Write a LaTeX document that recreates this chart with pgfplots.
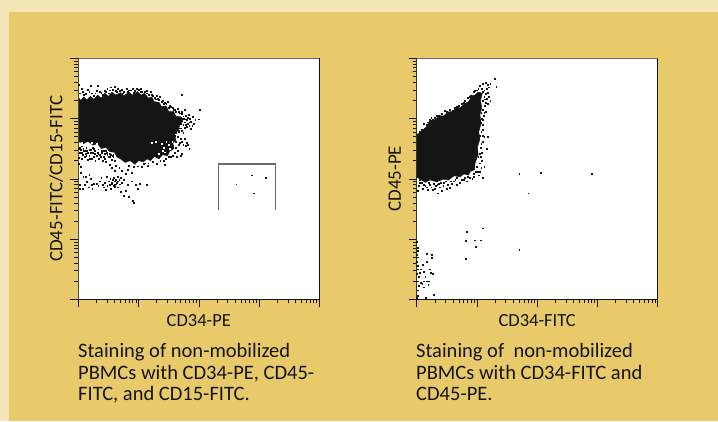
\documentclass[border=0pt]{standalone}
\usepackage{fontspec}
\setmainfont{Carlito}
\usepackage{pgfplots}
\pgfplotsset{compat=1.18}
\definecolor{cream}{HTML}{F5E6B8}
\definecolor{panel}{HTML}{E9CA6A}
\definecolor{ink}{HTML}{141414}
\definecolor{framegray}{HTML}{6A6A6A}
\def\minorlist{0.301,0.477,0.602,0.699,0.778,0.845,0.903,0.954,1.301,1.477,1.602,1.699,1.778,1.845,1.903,1.954,2.301,2.477,2.602,2.699,2.778,2.845,2.903,2.954,3.301,3.477,3.602,3.699,3.778,3.845,3.903,3.954}
\pgfplotsset{flow/.style={
  scale only axis,width=241pt,height=241pt,anchor=south west,
  xmin=0,xmax=4,ymin=0,ymax=4,
  xtick={0,1,2,3,4},ytick={0,1,2,3,4},
  minor xtick=\minorlist,minor ytick=\minorlist,
  xticklabels={},yticklabels={},
  tick align=outside,xtick pos=bottom,ytick pos=left,
  major tick length=8pt,minor tick length=4pt,
  every tick/.style={ink,line width=0.6pt},
  minor tick style={ink,line width=0.5pt},
  axis line style={ink,line width=0.6pt},
  axis background/.style={fill=white},
  clip=true,
  every axis x label/.style={at={(axis description cs:0.5,0)},yshift=-21pt,anchor=center,font=\fontsize{18.5}{20}\selectfont,text=ink},
  every axis y label/.style={at={(axis description cs:0,0.5)},xshift=-22pt,rotate=90,anchor=center,font=\fontsize{19}{20}\selectfont,text=ink},
},
speck/.style={only marks,mark=square*,mark size=0.42pt,mark options={ink,draw=none,fill=ink}},
gapspeck/.style={only marks,mark=square*,mark size=0.4pt,mark options={white,draw=none,fill=white}}}
\begin{document}
\begin{tikzpicture}[x=1pt,y=1pt]
\fill[cream] (0,0) rectangle (718,421);
\fill[panel] (9,0) rectangle (718,409);
\begin{axis}[flow,at={(78.3pt,121.7pt)},xlabel={CD34-PE},ylabel={CD45-FITC/CD15-FITC}]
\addplot[fill=ink,draw=ink,line width=0.3pt] coordinates {(0,3.36)(0.04,3.30)(0.09,3.36)(0.14,3.31)(0.20,3.37)(0.26,3.32)(0.32,3.39)(0.38,3.34)(0.44,3.42)(0.50,3.37)(0.56,3.44)(0.62,3.39)(0.70,3.43)(0.76,3.38)(0.84,3.44)(0.90,3.39)(0.98,3.45)(1.04,3.39)(1.10,3.42)(1.16,3.34)(1.22,3.36)(1.26,3.28)(1.34,3.27)(1.38,3.20)(1.46,3.21)(1.50,3.12)(1.58,3.12)(1.62,3.04)(1.70,3.03)(1.72,2.94)(1.68,2.88)(1.66,2.80)(1.60,2.74)(1.62,2.64)(1.57,2.60)(1.59,2.50)(1.52,2.46)(1.48,2.38)(1.40,2.40)(1.34,2.33)(1.26,2.37)(1.20,2.30)(1.14,2.33)(1.08,2.28)(1.00,2.30)(0.94,2.24)(0.86,2.30)(0.78,2.27)(0.70,2.33)(0.64,2.36)(0.60,2.44)(0.52,2.45)(0.46,2.52)(0.38,2.50)(0.32,2.58)(0.24,2.56)(0.16,2.62)(0.08,2.58)(0,2.62)} --cycle;
\addplot[speck] coordinates {
(0.01,3.56)(0.03,3.42)(0.06,3.50)(0.09,3.40)(0.12,3.41)(0.16,3.48)(0.20,3.54)(0.22,3.42)(0.26,3.38)(0.30,3.46)(0.32,3.54)(0.36,3.44)(0.40,3.40)(0.44,3.46)(0.48,3.50)(0.50,3.42)(0.54,3.52)(0.57,3.48)(0.60,3.53)(0.62,3.46)(0.66,3.50)(0.69,3.46)(0.72,3.48)(0.76,3.44)(0.80,3.49)(0.84,3.47)(0.87,3.47)(0.90,3.50)(0.93,3.46)(0.97,3.49)(1.00,3.48)(1.03,3.50)(1.06,3.45)(1.10,3.44)(1.13,3.46)(1.17,3.40)(1.20,3.44)(1.24,3.38)(1.27,3.35)(1.30,3.38)(1.34,3.31)(1.40,3.30)(1.44,3.26)(1.48,3.28)(1.52,3.22)(1.56,3.18)(1.60,3.15)(1.65,3.16)(1.72,3.12)(1.76,3.14)(1.72,3.40)
(0.07,3.44)(0.18,3.44)(0.28,3.42)(0.38,3.43)(0.46,3.45)(0.52,3.47)(0.64,3.45)(0.74,3.42)(0.82,3.45)(0.92,3.43)(1.04,3.44)(1.14,3.42)(1.22,3.40)(1.32,3.33)(1.38,3.28)(1.46,3.25)(1.54,3.20)(1.62,3.12)(1.68,3.09)(1.35,3.36)(1.28,3.32)(1.42,3.24)(1.50,3.18)(1.58,3.15)(1.66,3.11)
(1.70,3.02)(1.74,3.04)(1.78,3.05)(1.80,2.98)(1.83,3.06)(1.85,3.00)(1.87,2.95)(1.82,2.92)(1.78,2.90)(1.76,2.85)(1.89,2.88)(1.92,2.92)(1.86,2.83)(2.02,3.14)(2.00,2.99)(1.90,3.03)(1.72,2.96)(1.74,2.90)(1.70,2.84)(1.80,2.86)(1.84,2.88)(1.94,2.98)(1.72,3.08)(1.77,2.99)(1.75,3.00)(1.72,3.00)(1.70,2.92)(1.76,2.94)(1.81,3.02)(1.85,2.94)(1.66,2.80)(1.68,2.84)(1.72,2.80)(1.74,2.76)
(1.62,2.76)(1.66,2.78)(1.60,2.72)(1.65,2.70)(1.70,2.66)(1.72,2.62)(1.76,2.66)(1.80,2.60)(1.82,2.57)(1.78,2.55)(1.84,2.50)(1.74,2.56)(1.68,2.60)(1.62,2.62)(1.65,2.46)(1.70,2.38)(1.72,2.42)(1.64,2.36)(1.57,2.38)(1.50,2.36)(1.45,2.34)(1.36,2.30)(1.24,2.28)(1.16,2.26)(1.08,2.25)(1.44,2.24)(1.30,2.25)(1.15,2.22)(1.05,2.20)(1.62,2.52)(1.66,2.56)(1.42,2.30)(1.10,2.26)(0.98,2.21)(0.84,2.22)(0.92,2.20)(1.54,2.36)(1.60,2.44)
(0.00,2.50)(0.02,2.52)(0.05,2.54)(0.08,2.50)(0.14,2.46)(0.20,2.48)(0.26,2.50)(0.32,2.44)(0.38,2.47)(0.45,2.46)(0.52,2.42)(0.58,2.40)(0.03,2.44)(0.07,2.40)(0.12,2.42)(0.18,2.39)(0.24,2.43)(0.30,2.38)(0.36,2.40)(0.42,2.36)(0.50,2.36)(0.56,2.32)(0.60,2.30)(0.01,2.35)(0.05,2.33)(0.10,2.36)(0.16,2.32)(0.22,2.34)(0.28,2.30)(0.34,2.33)(0.40,2.30)(0.46,2.28)(0.52,2.24)(0.01,2.25)(0.04,2.20)(0.55,2.18)(0.62,2.22)(0.60,2.14)(0.68,2.18)(0.72,2.14)(0.82,2.15)(0.88,2.10)(0.78,2.08)
(0.04,2.48)(0.09,2.46)(0.13,2.52)(0.18,2.48)(0.24,2.52)(0.27,2.46)(0.33,2.49)(0.40,2.46)(0.43,2.46)(0.47,2.44)(0.54,2.40)(0.57,2.38)(0.06,2.44)(0.11,2.46)(0.16,2.44)(0.21,2.44)(0.27,2.42)(0.33,2.42)(0.39,2.44)(0.44,2.42)(0.48,2.40)(0.53,2.36)(0.58,2.36)(0.13,2.38)(0.19,2.34)(0.26,2.37)(0.37,2.36)(0.44,2.33)
(0.04,2.10)(0.08,2.03)(0.10,1.90)(0.03,1.90)(0.02,1.83)(0.07,1.84)(0.12,2.03)(0.14,1.95)(0.17,1.86)(0.20,2.00)(0.22,1.90)(0.18,2.07)(0.23,1.84)(0.25,1.92)(0.30,1.92)(0.33,1.88)(0.36,1.96)(0.38,2.02)(0.40,1.90)(0.42,1.86)(0.44,1.94)(0.46,1.82)(0.47,2.03)(0.48,1.88)(0.50,1.96)(0.52,1.90)(0.53,2.00)(0.54,1.84)(0.56,1.94)(0.58,1.88)(0.59,2.02)(0.60,1.96)(0.61,1.90)(0.62,1.99)(0.64,1.93)(0.65,2.04)(0.66,1.86)(0.68,1.98)(0.70,2.02)(0.72,1.94)(0.76,1.98)(0.82,1.90)(0.88,1.96)(0.95,1.90)(1.02,1.92)(1.14,1.90)(0.70,1.78)(0.76,1.72)(0.84,1.70)(0.90,1.64)(0.92,1.60)(0.78,1.80)(0.98,1.84)(0.55,1.92)(0.57,1.98)(0.60,1.87)(0.63,1.91)(0.66,1.96)(0.69,1.91)
(2.62,1.91)(2.88,2.06)(3.11,2.02)(2.91,1.76)};
\addplot[gapspeck] coordinates {(1.22,2.60)(1.28,2.62)(1.38,2.58)(1.42,2.52)(1.46,2.62)(1.50,2.56)(1.44,2.44)(1.40,2.46)(1.52,2.50)(0.06,2.60)(0.14,2.58)(0.22,2.60)(0.30,2.58)(1.34,2.42)(1.56,2.62)};
\addplot[framegray,line width=1.1pt] coordinates {(2.32,1.49)(2.32,2.245)(3.28,2.245)(3.28,1.49)};
\draw[framegray,line width=1.1pt] (rel axis cs:0,0)--(rel axis cs:0,1)--(rel axis cs:1,1);
\end{axis}
\begin{axis}[flow,at={(416.7pt,121.7pt)},xlabel={CD34-FITC},ylabel={CD45-PE}]
\addplot[fill=ink,draw=ink,line width=0.3pt] coordinates {(0,2.74)(0.06,2.76)(0.11,2.82)(0.16,2.86)(0.22,2.97)(0.30,2.98)(0.38,3.05)(0.44,3.04)(0.52,3.11)(0.60,3.12)(0.66,3.19)(0.72,3.18)(0.80,3.25)(0.86,3.28)(0.92,3.38)(0.97,3.39)(1.02,3.44)(1.09,3.42)(1.06,3.30)(1.08,3.18)(1.05,3.06)(1.07,2.92)(1.03,2.78)(1.05,2.66)(1.01,2.53)(1.02,2.40)(0.97,2.26)(0.96,2.15)(0.89,2.12)(0.86,2.06)(0.78,2.08)(0.72,2.03)(0.62,2.05)(0.53,1.98)(0.44,1.99)(0.33,1.95)(0.22,1.98)(0.14,1.94)(0.08,1.98)(0,2.03)} --cycle;
\addplot[speck] coordinates {
(1.30,3.66)(1.32,3.53)(1.05,3.55)(1.10,3.58)(1.15,3.60)(1.18,3.56)(1.22,3.58)(1.08,3.50)(1.12,3.47)(1.16,3.50)(1.20,3.52)(1.10,3.44)(1.14,3.41)(1.18,3.43)(1.20,3.36)(1.22,3.30)(1.16,3.33)(1.12,3.36)(1.10,3.29)(1.18,3.24)(1.13,3.22)(1.10,3.15)(1.07,3.10)(1.15,3.12)(1.11,3.05)(1.08,3.00)(1.06,2.93)(1.10,2.90)(1.12,2.70)(1.18,2.70)(1.07,2.78)(1.04,2.72)(1.09,2.62)(1.06,2.52)(1.16,2.50)(1.04,2.42)(1.08,2.30)(1.12,2.20)(1.02,2.36)(1.00,2.20)(1.05,2.12)(1.03,2.06)(0.98,2.12)(1.10,2.02)(0.94,2.08)(0.92,2.00)(0.85,2.04)(0.78,1.98)(0.72,1.93)(0.66,2.02)(0.62,1.96)(0.58,1.92)(0.52,1.90)(0.48,1.96)(0.50,1.84)(0.44,1.88)(0.40,1.94)(0.38,1.86)(0.34,1.90)(0.30,1.84)(0.35,1.76)(0.28,1.92)(0.24,1.86)(0.20,1.94)(0.16,1.86)(0.12,1.90)(0.10,1.84)(0.08,1.94)(0.05,1.99)(0.03,1.88)(0.01,1.80)(0.26,1.82)(0.18,1.82)(0.42,1.80)(0.55,1.85)(0.66,1.90)(0.83,1.96)
(0.13,2.84)(0.17,2.90)(0.21,2.98)(0.12,2.92)(0.26,2.99)(0.30,3.02)(0.36,3.05)(0.42,3.08)(0.50,3.11)(0.55,3.14)(0.60,3.13)(0.66,3.20)(0.70,3.22)(0.75,3.25)(0.80,3.29)(0.85,3.34)(0.90,3.38)(0.95,3.44)(0.55,3.09)(0.05,2.78)(0.08,2.81)
(0.05,1.94)(0.14,1.88)(0.22,1.90)(0.32,1.88)(0.36,1.92)(0.45,1.93)(0.56,1.96)(0.64,1.98)(0.74,1.98)(0.80,2.02)(0.88,2.02)(0.95,2.04)(1.01,2.12)(1.07,2.18)(1.04,2.26)(1.06,2.36)(1.08,2.44)(1.07,2.58)(1.09,2.72)(1.09,2.82)(1.10,2.98)(1.12,3.10)(1.14,3.26)(1.13,3.32)(1.02,3.50)(1.00,3.47)(0.96,3.46)(0.18,2.94)(0.24,3.02)(0.33,3.05)(0.47,3.13)(0.63,3.18)(0.78,3.27)(0.88,3.36)
(1.70,2.08)(2.06,2.10)(2.91,2.08)(1.85,1.76)(1.70,0.82)(1.09,1.18)(0.83,1.12)(0.81,0.97)(0.96,0.98)(1.06,0.98)(0.98,0.88)(0.81,0.67)
(0.00,0.95)(0.01,0.86)(0.02,0.80)(0.00,0.74)(0.02,0.70)(0.00,0.62)(0.01,0.56)(0.02,0.50)(0.00,0.42)(0.03,0.38)(0.01,0.30)(0.04,0.22)(0.02,0.15)(0.01,0.06)(0.00,0.02)(0.17,0.76)(0.25,0.74)(0.25,0.69)(0.17,0.62)(0.10,0.57)(0.07,0.50)(0.05,0.44)(0.12,0.46)(0.14,0.38)(0.21,0.50)(0.23,0.44)(0.26,0.42)(0.16,0.30)(0.11,0.30)(0.06,0.28)(0.20,0.30)(0.09,0.26)(0.12,0.20)(0.19,0.24)(0.28,0.07)(0.15,0.03)};
\draw[framegray,line width=1.1pt] (rel axis cs:0,0)--(rel axis cs:0,1)--(rel axis cs:1,1);
\end{axis}
\node[anchor=north west,align=left,inner sep=0pt,text=ink,font=\fontsize{20.5}{21.5}\selectfont] at (78,77.5) {Staining of non-mobilized\\PBMCs with CD34-PE, CD45-\\FITC, and CD15-FITC.};
\node[anchor=north west,align=left,inner sep=0pt,text=ink,font=\fontsize{20.5}{21.5}\selectfont] at (416,77.5) {Staining of~~non-mobilized\\PBMCs with CD34-FITC and\\CD45-PE.};
\end{tikzpicture}
\end{document}
